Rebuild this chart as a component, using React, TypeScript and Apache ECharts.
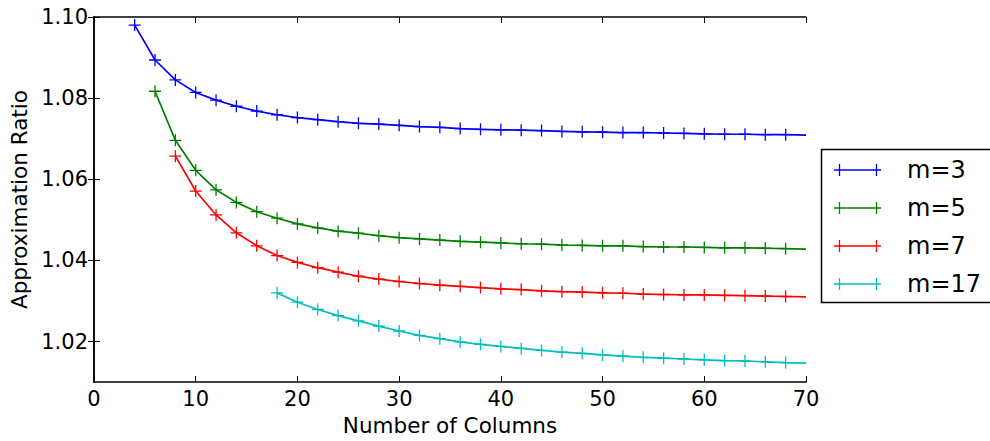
import React, { useEffect, useRef } from "react";
import * as echarts from "echarts";

const columns = [4, 6, 8, 10, 12, 14, 16, 18, 20, 22, 24, 26, 28, 30, 32, 34, 36, 38, 40, 42, 44, 46, 48, 50, 52, 54, 56, 58, 60, 62, 64, 66, 68, 70];

const seriesNames = ["m=3", "m=5", "m=7", "m=17"];
const seriesColors = ["#0000ff", "#008000", "#ff0000", "#00bfbf"];
const seriesStart = [4, 6, 8, 18];

const m3 = [1.0980, 1.0894, 1.0845, 1.0814, 1.0795, 1.0780, 1.0768, 1.0759, 1.0752, 1.0747, 1.0742, 1.0738, 1.0736, 1.0733, 1.0730, 1.0728, 1.0725, 1.0723, 1.0722, 1.0721, 1.0720, 1.0718, 1.0717, 1.0716, 1.0715, 1.0715, 1.0714, 1.0713, 1.0712, 1.0711, 1.0711, 1.0710, 1.0710, 1.0709];
const m5 = [1.0817, 1.0696, 1.0622, 1.0574, 1.0543, 1.0520, 1.0504, 1.0490, 1.0480, 1.0472, 1.0467, 1.0461, 1.0456, 1.0453, 1.0450, 1.0447, 1.0445, 1.0443, 1.0441, 1.0440, 1.0438, 1.0437, 1.0436, 1.0436, 1.0434, 1.0433, 1.0433, 1.0432, 1.0431, 1.0431, 1.0430, 1.0429, 1.0428];
const m7 = [1.0657, 1.0571, 1.0512, 1.0468, 1.0436, 1.0412, 1.0395, 1.0382, 1.0371, 1.0361, 1.0354, 1.0348, 1.0343, 1.0339, 1.0336, 1.0333, 1.0330, 1.0328, 1.0325, 1.0323, 1.0322, 1.0320, 1.0319, 1.0317, 1.0316, 1.0315, 1.0315, 1.0314, 1.0313, 1.0312, 1.0311, 1.0310];
const m17 = [1.0320, 1.0297, 1.0279, 1.0264, 1.0251, 1.0238, 1.0226, 1.0215, 1.0207, 1.0199, 1.0193, 1.0188, 1.0183, 1.0178, 1.0174, 1.0171, 1.0167, 1.0164, 1.0161, 1.0159, 1.0157, 1.0155, 1.0153, 1.0152, 1.0150, 1.0148, 1.0147];

const seriesValues = [m3, m5, m7, m17];

const xMin = 0;
const xMax = 70;
const xTicks = [0, 10, 20, 30, 40, 50, 60, 70];
const yTicks = [1.02, 1.04, 1.06, 1.08, 1.10];

const FONT = "DejaVu Sans";
const PLUS = "path://M5.35,0 H6.65 V5.35 H12 V6.65 H6.65 V12 H5.35 V6.65 H0 V5.35 H5.35 Z";

export default function App() {
  const ref = useRef<HTMLDivElement>(null);
  useEffect(() => {
    if (!ref.current) return;
    const chart = echarts.init(ref.current, null, { renderer: "svg" });

    const series = seriesValues.map((vals, i) => {
      const start = columns.indexOf(seriesStart[i]);
      return {
        name: seriesNames[i],
        type: "line",
        data: vals.map((v, k) => {
          const x = columns[start + k];
          // marker sitting on the frame edge is hidden behind the spine in the original
          return x >= xMax ? { value: [x, v], symbol: "none" } : { value: [x, v] };
        }),
        symbol: PLUS,
        symbolSize: 12,
        showAllSymbol: true,
        lineStyle: { color: seriesColors[i], width: 1.7 },
        itemStyle: { color: seriesColors[i] },
        clip: true,
        z: 2,
      };
    });

    const axisLine = { show: true, lineStyle: { color: "#000", width: 1.6 } };
    const tick = { show: true, inside: true, length: 6, lineStyle: { color: "#000", width: 1 } };
    const labelStyle = { color: "#000", fontSize: 21, fontFamily: FONT };

    const legendGraphics: any[] = [
      {
        type: "rect",
        shape: { x: 821.5, y: 149.5, width: 200, height: 153 },
        style: { fill: "#fff", stroke: "#000", lineWidth: 1.5 },
        z: 10,
      },
    ];
    seriesNames.forEach((name, i) => {
      const y = 170 + i * 38;
      const c = seriesColors[i];
      legendGraphics.push(
        { type: "line", shape: { x1: 834, y1: y, x2: 881, y2: y }, style: { stroke: c, lineWidth: 1.7 }, z: 11 },
        { type: "line", shape: { x1: 839.5, y1: y - 6, x2: 839.5, y2: y + 6 }, style: { stroke: c, lineWidth: 1.3 }, z: 11 },
        { type: "line", shape: { x1: 876.5, y1: y - 6, x2: 876.5, y2: y + 6 }, style: { stroke: c, lineWidth: 1.3 }, z: 11 },
        {
          type: "text",
          x: 907,
          y: y,
          style: { text: name, fill: "#000", font: `24px '${FONT}'`, verticalAlign: "middle", align: "left" },
          z: 11,
        }
      );
    });

    chart.setOption({
      animation: false,
      backgroundColor: "#fff",
      textStyle: { fontFamily: FONT },
      grid: { left: 94, top: 17, right: 184, bottom: 58, containLabel: false },
      xAxis: [
        {
          type: "value",
          position: "bottom",
          min: xMin,
          max: xMax,
          interval: 10,
          z: 5,
          axisLine,
          axisTick: tick,
          splitLine: { show: false },
          axisLabel: { ...labelStyle, margin: 6, customValues: xTicks },
          name: "Number of Columns",
          nameLocation: "middle",
          nameGap: 31,
          nameTextStyle: { color: "#000", fontSize: 21.5, fontFamily: FONT },
        },
        {
          type: "value",
          position: "top",
          min: xMin,
          max: xMax,
          interval: 10,
          z: 5,
          axisLine,
          axisTick: tick,
          splitLine: { show: false },
          axisLabel: { show: false },
        },
      ],
      yAxis: [
        {
          type: "value",
          position: "left",
          min: 1.01,
          max: 1.1,
          z: 5,
          axisLine,
          axisTick: { ...tick, customValues: yTicks },
          splitLine: { show: false },
          axisLabel: {
            ...labelStyle,
            margin: 6,
            customValues: yTicks,
            formatter: (v: number) => v.toFixed(2),
          },
          name: "Approximation Ratio",
          nameLocation: "middle",
          nameGap: 64,
          nameTextStyle: { color: "#000", fontSize: 21.5, fontFamily: FONT },
        },
        {
          type: "value",
          position: "right",
          min: 1.01,
          max: 1.1,
          z: 5,
          axisLine,
          axisTick: { ...tick, customValues: yTicks },
          splitLine: { show: false },
          axisLabel: { show: false, customValues: yTicks },
        },
      ],
      series,
      graphic: legendGraphics,
    });
    return () => chart.dispose();
  }, []);
  return <div ref={ref} style={{ position: "absolute", left: 0, top: 0, width: 990, height: 441 }} />;
}
